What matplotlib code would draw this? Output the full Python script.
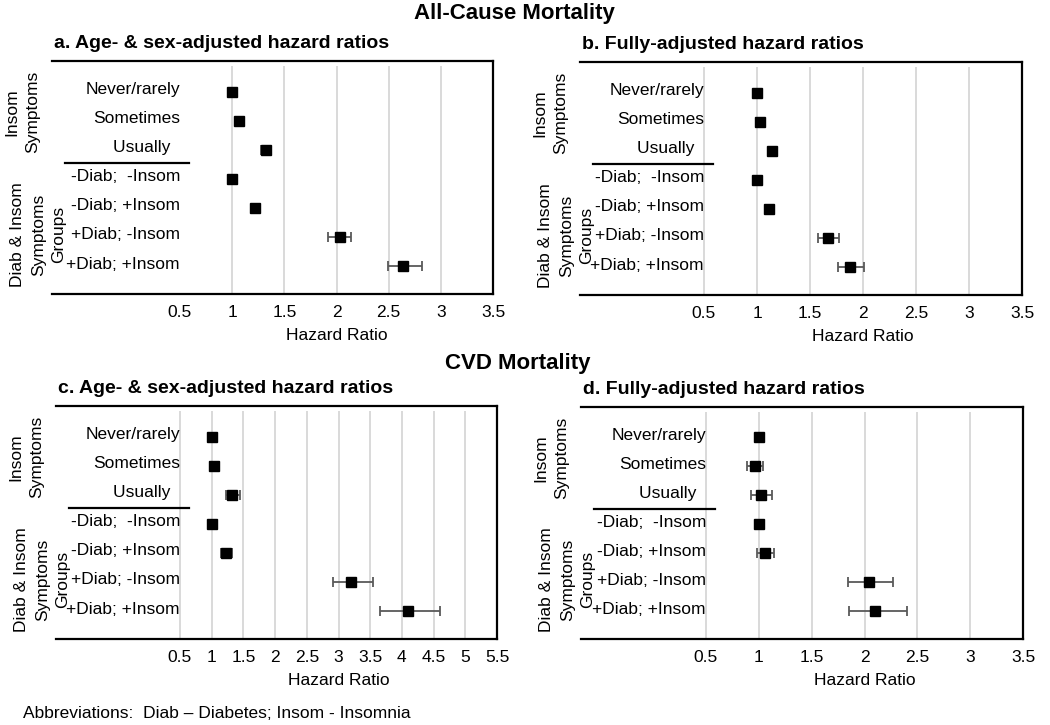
import matplotlib
matplotlib.use("Agg")
import matplotlib.pyplot as plt
import matplotlib.transforms as mtransforms

plt.rcParams['font.family'] = ['Liberation Sans', 'DejaVu Sans']

# row labels (top to bottom)
rows = ["Never/rarely", "Sometimes", "Usually  ",
        "-Diab;  -Insom", "-Diab; +Insom", "+Diab; -Insom", "+Diab; +Insom"]

# panel a: all-cause, age- & sex-adjusted
hr_a = [1.00, 1.07, 1.32, 1.00, 1.22, 2.03, 2.64]
lo_a = [1.00, 1.05, 1.28, 1.00, 1.19, 1.92, 2.49]
hi_a = [1.00, 1.10, 1.36, 1.00, 1.25, 2.14, 2.82]

# panel b: all-cause, fully adjusted
hr_b = [1.00, 1.03, 1.14, 1.00, 1.11, 1.67, 1.88]
lo_b = [1.00, 1.01, 1.12, 1.00, 1.09, 1.58, 1.76]
hi_b = [1.00, 1.05, 1.16, 1.00, 1.13, 1.77, 2.01]

# panel c: CVD, age- & sex-adjusted
hr_c = [1.00, 1.04, 1.32, 1.00, 1.23, 3.20, 4.10]
lo_c = [1.00, 0.97, 1.23, 1.00, 1.15, 2.92, 3.66]
hi_c = [1.00, 1.12, 1.44, 1.00, 1.32, 3.54, 4.60]

# panel d: CVD, fully adjusted
hr_d = [1.00, 0.96, 1.025, 1.00, 1.06, 2.04, 2.10]
lo_d = [1.00, 0.885, 0.93, 1.00, 0.98, 1.84, 1.85]
hi_d = [1.00, 1.04, 1.12, 1.00, 1.14, 2.27, 2.40]

ticks_short = [0.5, 1, 1.5, 2, 2.5, 3, 3.5]
ticks_long = [0.5, 1, 1.5, 2, 2.5, 3, 3.5, 4, 4.5, 5, 5.5]

W, H = 1050, 725
fig = plt.figure(figsize=(W / 100, H / 100), dpi=100)

panels = [
    # title, data, ticks, box (left, right, top, bottom px), x of 0.5 in px, show 0.5 grid
    ("a. Age- & sex-adjusted hazard ratios", (hr_a, lo_a, hi_a), ticks_short, (52, 493, 61, 294), 180, False),
    ("b. Fully-adjusted hazard ratios", (hr_b, lo_b, hi_b), ticks_short, (580, 1022, 62, 295), 704, True),
    ("c. Age- & sex-adjusted hazard ratios", (hr_c, lo_c, hi_c), ticks_long, (56, 497, 406, 639), 180, True),
    ("d. Fully-adjusted hazard ratios", (hr_d, lo_d, hi_d), ticks_short, (581, 1023, 407, 639), 706, True),
]

for title, (hr, lo, hi), ticks, (l, r, t, b), x05, grid05 in panels:
    ax = fig.add_axes([l / W, 1 - b / H, (r - l) / W, (b - t) / H])
    xmax = ticks[-1]
    frac = (x05 - l) / (r - l)
    xmin = 0.5 - frac / (1 - frac) * (xmax - 0.5)
    ax.set_xlim(xmin, xmax)
    ax.set_ylim(6.95, -1.05)

    for v in ticks:
        if v == 0.5 and not grid05:
            continue
        ax.axvline(v, color="#d9d9d9", lw=1.4, ymax=0.975, zorder=0)

    ypos = list(range(len(rows)))
    err = [[h - a for h, a in zip(hr, lo)], [c - h for h, c in zip(hr, hi)]]
    ax.errorbar(hr, ypos, xerr=err, fmt="s", color="black", ms=7.5,
                ecolor="#595959", elinewidth=1.3, capsize=3.5, capthick=1.3, zorder=3)

    for y, lab in zip(ypos, rows):
        ax.text(0.5, y - 0.08, lab, ha="right", va="center", fontsize=12.5)

    # separator line between the two groups
    trans = mtransforms.blended_transform_factory(ax.transAxes, ax.transData)
    ax.plot([0.03, frac + 0.02], [2.45, 2.45], transform=trans, color="black",
            lw=1.6, clip_on=False)

    ax.text(-0.068, 0.78, "Insom\nSymptoms", transform=ax.transAxes, rotation=90,
            ha="center", va="center", fontsize=12.5, multialignment="center",
            linespacing=1.5)
    ax.text(-0.031, 0.255, "Diab & Insom\nSymptoms\nGroups", transform=ax.transAxes,
            rotation=90, ha="center", va="center", fontsize=12.5,
            multialignment="center", linespacing=1.45)

    ax.set_xticks(ticks)
    ax.set_xticklabels([f"{v:g}" for v in ticks], fontsize=12.5)
    ax.tick_params(axis="x", length=0, pad=8)
    ax.set_yticks([])
    ax.set_xlabel("Hazard Ratio", fontsize=12.5, labelpad=2)
    ax.xaxis.set_label_coords(frac + (1 - frac) / 2, -0.145)

    ax.spines["left"].set_visible(False)
    for s in ("top", "right", "bottom"):
        ax.spines[s].set_linewidth(1.6)

    ax.text(0.005, 1.075, title, transform=ax.transAxes, ha="left", va="center",
            fontsize=14, fontweight="bold")

fig.text(514 / W, 1 - 14 / H, "All-Cause Mortality", ha="center", va="center",
         fontsize=16, fontweight="bold")
fig.text(518 / W, 1 - 363 / H, "CVD Mortality", ha="center", va="center",
         fontsize=16, fontweight="bold")
fig.text(23 / W, 1 - 713 / H, "Abbreviations:  Diab \u2013 Diabetes; Insom - Insomnia",
         ha="left", va="center", fontsize=12.5)

fig.savefig("out.png", dpi=100)
